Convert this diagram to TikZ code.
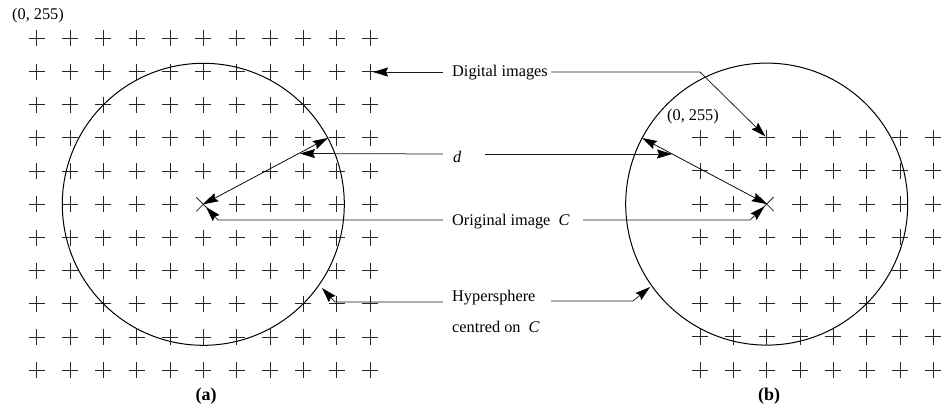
\documentclass[tikz,border=0pt]{standalone}
\usepackage{fontspec}
\setmainfont{Liberation Serif}
\usetikzlibrary{arrows.meta,calc}
\begin{document}
\begin{tikzpicture}[x=1pt,y=-1pt,
  lbl/.style={anchor=west,inner sep=0pt,font=\fontsize{16.3}{19}\selectfont},
  sublabel/.style={inner sep=0pt,font=\fontsize{18}{21}\selectfont\bfseries},
  gridmark/.style={line width=0.85pt,black!85},
  ring/.style={line width=1pt},
  conn/.style={line width=0.75pt,black!90,-{Stealth[length=15pt,width=9pt,inset=2pt,black]}},
  dbl/.style={line width=0.75pt,{Stealth[length=15pt,width=9pt,inset=2pt]}-{Stealth[length=15pt,width=9pt,inset=2pt]}}]
\useasboundingbox (0,0) rectangle (945,408);
% grids of digital images
\foreach \i in {0,...,10}{\foreach \j in {0,...,10}{
  \pgfmathsetmacro{\gx}{36.7+33.33*\i}\pgfmathsetmacro{\gy}{38.3+33.2*\j}
  \ifnum\i=5 \ifnum\j=5 \else
  \draw[gridmark] (\gx-8,\gy) -- (\gx+8,\gy) (\gx,\gy-8) -- (\gx,\gy+8);\fi
  \else \draw[gridmark] (\gx-8,\gy) -- (\gx+8,\gy) (\gx,\gy-8) -- (\gx,\gy+8);\fi}}
\foreach \i in {0,...,7}{\foreach \j in {0,...,7}{
  \pgfmathsetmacro{\gx}{700+33.33*\i}\pgfmathsetmacro{\gy}{137.7+33.2*\j}
  \ifnum\i=2 \ifnum\j=2 \else
  \draw[gridmark] (\gx-8,\gy) -- (\gx+8,\gy) (\gx,\gy-8) -- (\gx,\gy+8);\fi
  \else \draw[gridmark] (\gx-8,\gy) -- (\gx+8,\gy) (\gx,\gy-8) -- (\gx,\gy+8);\fi}}
% original images
\coordinate (cL) at (203.3,204.3);
\coordinate (cR) at (766.7,204.1);
\draw[gridmark] ($(cL)+(-7,-7)$) -- ($(cL)+(7,7)$) ($(cL)+(-7,7)$) -- ($(cL)+(7,-7)$);
\draw[gridmark] ($(cR)+(-7,-7)$) -- ($(cR)+(7,7)$) ($(cR)+(-7,7)$) -- ($(cR)+(7,-7)$);
% hyperspheres
\draw[ring] (cL) circle[radius=141];
\draw[ring] (cR) circle[radius=141];
% radii d
\coordinate (rL) at (327.8,138);
\coordinate (rR) at (642,138);
\draw[dbl] (cL) -- (rL);
\draw[dbl] (cR) -- (rR);
% labels
\node[inner sep=0pt,font=\fontsize{16.3}{19}\selectfont] (o1) at (38,16) {(0, 255)};
\node[inner sep=0pt,font=\fontsize{16.3}{19}\selectfont] (o2) at (693,117) {(0, 255)};
\node[lbl] (dig) at (452,73) {Digital images};
\node[lbl] (dd) at (453,157) {\textit{d}};
\node[lbl] (orig) at (452,222) {Original image\ \ \textit{C}};
\node[lbl] (hyp) at (452,298) {Hypersphere};
\node[lbl] (cen) at (452,327) {centred on\ \ \textit{C}};
\node[sublabel] (a) at (206,396) {(a)};
\node[sublabel] (b) at (769,396) {(b)};
% connector anchors
\coordinate (digL) at (443,72);
\coordinate (digR) at (551,72);
\coordinate (digT) at (373,72);
\coordinate (digB) at (700,72);
\coordinate (digP) at (765.5,136.5);
\coordinate (dL) at (443,154);
\coordinate (dR) at (485,154);
\coordinate (dTL) at (300,153.5);
\coordinate (dTR) at (672,154);
\coordinate (oL) at (443,220);
\coordinate (oR) at (583,220);
\coordinate (oBL) at (218,220);
\coordinate (oBR) at (750,220);
\coordinate (oTL) at (206,207);
\coordinate (oTR) at (764.5,206.5);
\coordinate (hL) at (443,302);
\coordinate (hR) at (551,301);
\coordinate (hBL) at (335,302);
\coordinate (hBR) at (633,301);
\coordinate (hTL) at (322,288);
\coordinate (hTR) at (650,287);
% connectors
\draw[conn] (digL) -- (digT);
\draw[conn] (digR) -- (digB) -- (digP);
\draw[conn] (dL) -- (dTL);
\draw[conn] (dR) -- (dTR);
\draw[conn] (oL) -- (oBL) -- (oTL);
\draw[conn] (oR) -- (oBR) -- (oTR);
\draw[conn] (hL) -- (hBL) -- (hTL);
\draw[conn] (hR) -- (hBR) -- (hTR);
\end{tikzpicture}
\end{document}
